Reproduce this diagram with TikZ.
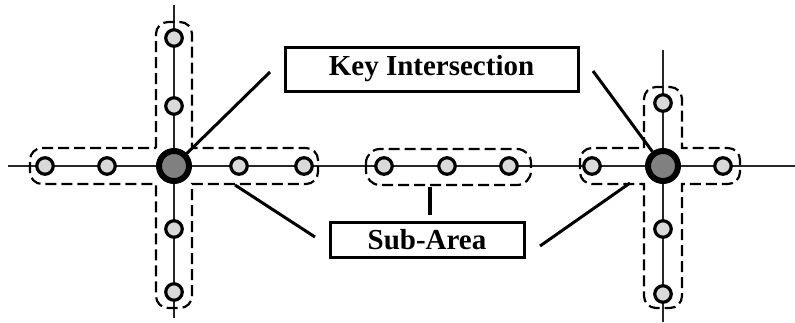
\documentclass[tikz,border=0pt]{standalone}
\usepackage{fontspec}
\setmainfont{Liberation Serif}
\begin{document}
\begin{tikzpicture}[x=1pt,y=-1pt,
  road/.style={line width=1.8pt,black!85},
  stop/.style={circle,draw,line width=3.2pt,fill=black!15,minimum size=16.5pt,inner sep=0pt},
  keystop/.style={circle,draw,line width=6pt,fill=black!50,minimum size=30pt,inner sep=0pt},
  zone/.style={line width=2.2pt,dash pattern=on 11pt off 5pt},
  label/.style={draw,line width=3pt,inner sep=0pt,font=\fontsize{29}{29}\selectfont\bfseries},
  lead/.style={line width=3pt}]
\useasboundingbox (0,0) rectangle (795,322);

% road network
\draw[road] (8,166) -- (795,166);
\draw[road] (174,5) -- (174,318);
\draw[road] (663,50) -- (663,322);

% sub-area outlines
\draw[zone] (156,148) -- (156,34) arc[start angle=180,end angle=270,radius=12]
  -- (180,22) arc[start angle=270,end angle=360,radius=12]
  -- (192,148) -- (306,148) arc[start angle=270,end angle=360,radius=12]
  -- (318,172) arc[start angle=0,end angle=90,radius=12]
  -- (192,184) -- (192,296) arc[start angle=0,end angle=90,radius=12]
  -- (168,308) arc[start angle=90,end angle=180,radius=12]
  -- (156,184) -- (42,184) arc[start angle=90,end angle=180,radius=12]
  -- (30,160) arc[start angle=180,end angle=270,radius=12] -- cycle;
\draw[zone,rounded corners=14pt] (366,149) rectangle (531,185);
\draw[zone] (644,148) -- (644,99) arc[start angle=180,end angle=270,radius=12]
  -- (670,87) arc[start angle=270,end angle=360,radius=12]
  -- (682,148) -- (728,148) arc[start angle=270,end angle=360,radius=12]
  -- (740,172) arc[start angle=0,end angle=90,radius=12]
  -- (682,184) -- (682,296) arc[start angle=0,end angle=90,radius=12]
  -- (656,308) arc[start angle=90,end angle=180,radius=12]
  -- (644,184) -- (592,184) arc[start angle=90,end angle=180,radius=12]
  -- (580,160) arc[start angle=180,end angle=270,radius=12] -- cycle;

% stops
\node[keystop] (keyL) at (174,166) {};
\node[stop] (l1) at (45,166) {};
\node[stop] (l2) at (107,166) {};
\node[stop] (l3) at (239,166) {};
\node[stop] (l4) at (304,166) {};
\node[stop] (l5) at (174,38) {};
\node[stop] (l6) at (174,106) {};
\node[stop] (l7) at (174,229) {};
\node[stop] (l8) at (174,292) {};
\node[stop] (m1) at (384,166) {};
\node[stop] (m2) at (447,166) {};
\node[stop] (m3) at (509,166) {};
\node[keystop] (keyR) at (663,166) {};
\node[stop] (r1) at (592,166) {};
\node[stop] (r2) at (723,166) {};
\node[stop] (r3) at (663,103) {};
\node[stop] (r4) at (663,229) {};
\node[stop] (r5) at (663,294) {};

% labels
\node[label,minimum width=293pt,minimum height=44pt] (keybox) at (431.5,69) {Key Intersection};
\node[label,minimum width=194pt,minimum height=35pt] (subbox) at (427,239.5) {Sub-Area};

% leader lines
\coordinate (kA) at (270,72);
\coordinate (kB) at (593,71);
\draw[lead] (kA) -- (keyL);
\draw[lead] (kB) -- (keyR);
\coordinate (sA1) at (315,237);
\coordinate (sA2) at (235,185);
\coordinate (sB1) at (540,246);
\coordinate (sB2) at (630,183);
\coordinate (sC1) at (430,187);
\coordinate (sC2) at (430,215);
\draw[lead] (sA1) -- (sA2);
\draw[lead] (sB1) -- (sB2);
\draw[lead,line width=4pt] (sC1) -- (sC2);
\end{tikzpicture}
\end{document}
